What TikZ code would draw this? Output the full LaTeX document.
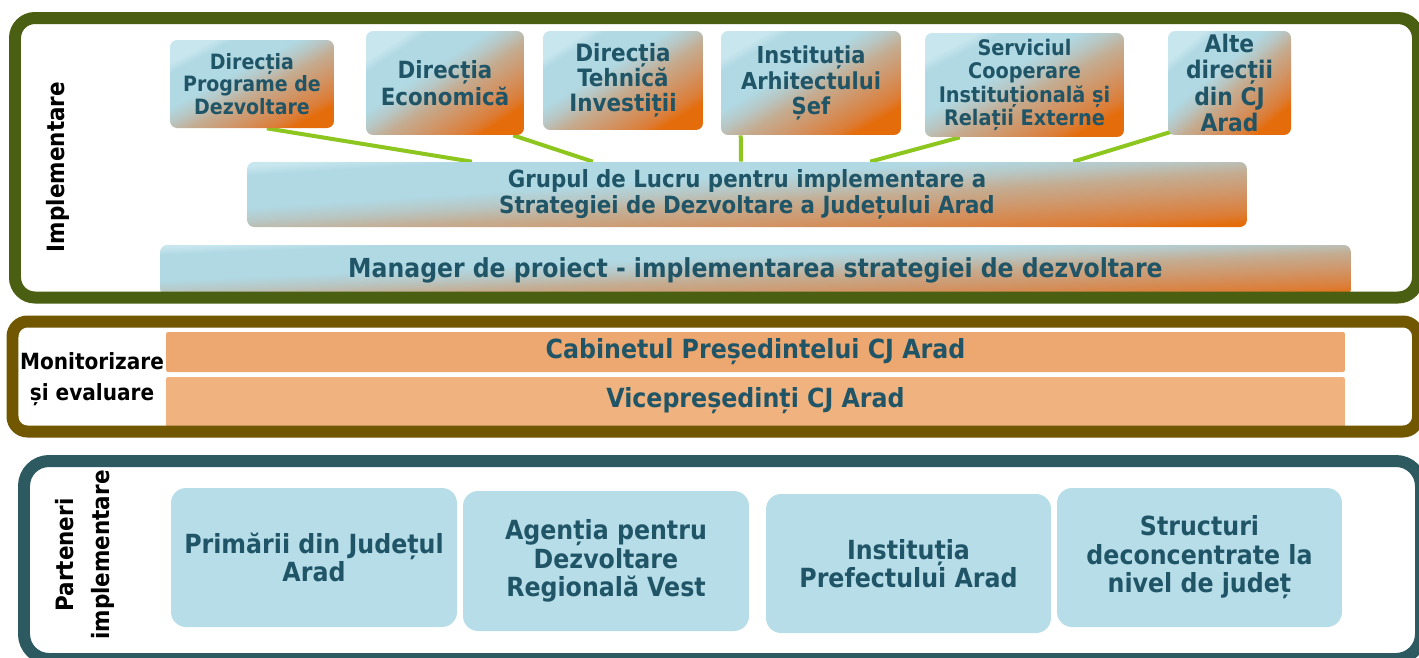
\documentclass[tikz,border=0pt]{standalone}
\usepackage{fontspec}
\setmainfont{DejaVu Sans Condensed}
\usetikzlibrary{calc}
\pgfdeclarelayer{bg}\pgfdeclarelayer{fg}
\pgfsetlayers{bg,main,fg}
\definecolor{txt}{RGB}{31,85,102}
\definecolor{frGreen}{RGB}{75,95,18}
\definecolor{frBrown}{RGB}{112,87,0}
\definecolor{frTeal}{RGB}{44,90,96}
\definecolor{boxBlue}{RGB}{183,221,232}
\definecolor{cabOr}{RGB}{237,167,112}
\definecolor{viceOr}{RGB}{240,179,128}
\definecolor{conn}{RGB}{140,198,30}
\definecolor{gOr}{RGB}{228,108,10}
\definecolor{gOrT}{RGB}{220,125,55}
\definecolor{gOrTan}{RGB}{208,150,105}
\definecolor{gTan}{RGB}{196,172,145}
\definecolor{gGray}{RGB}{184,198,195}
\definecolor{gBlue}{RGB}{176,217,228}
\definecolor{gLight}{RGB}{200,230,238}
\pgfdeclareverticalshading{boxgrad}{100bp}{color(0bp)=(gOr); color(25bp)=(gOr); color(29bp)=(gOrT); color(38bp)=(gOrTan); color(46bp)=(gTan); color(52bp)=(gGray); color(58bp)=(gBlue); color(71bp)=(gBlue); color(75bp)=(gLight); color(100bp)=(gLight)}
\tikzset{
  gbox/.style={shade, shading=boxgrad, rounded corners=0.14cm, text=txt, align=center, inner sep=0pt},
  pbox/.style={fill=boxBlue, rounded corners=0.3cm, text=txt, align=center, inner sep=0pt, font=\bfseries\fontsize{15}{16.2}\selectfont},
  band/.style={rounded corners=0.04cm, text=txt, inner sep=0pt},
  bandtxt/.style={text=txt, inner sep=0pt, font=\bfseries\fontsize{15}{16}\selectfont},
  connline/.style={draw=conn, line width=0.08cm},
  frame/.style={line width=0.24cm},
  lbl/.style={text=black, align=center, inner sep=0pt}
}
\begin{document}
\begin{tikzpicture}[x=0.02cm,y=-0.02cm]
\useasboundingbox (0,0) rectangle (1419,657);
% top boxes
\node[gbox, shading angle=28.2, minimum width=3.28cm, minimum height=1.76cm, font=\bfseries\fontsize{12}{13}\selectfont] (dp) at (252,84) {Direcția\\Programe de\\Dezvoltare};
\node[gbox, shading angle=33.4, minimum width=3.16cm, minimum height=2.08cm, font=\bfseries\fontsize{13.5}{15.3}\selectfont] (de) at (445,83) {Direcția\\Economică};
\node[gbox, shading angle=31.7, minimum width=3.2cm, minimum height=1.98cm, font=\bfseries\fontsize{13.6}{14.2}\selectfont] (dt) at (623,80.5) {Direcția\\Tehnică\\Investiții};
\node[gbox, shading angle=30, minimum width=3.6cm, minimum height=2.08cm, font=\bfseries\fontsize{13.3}{14.7}\selectfont] (ia) at (811,83) {Instituția\\Arhitectului\\Șef};
\node[gbox, shading angle=27.6, minimum width=3.98cm, minimum height=2.08cm, font=\bfseries\fontsize{12.2}{13.3}\selectfont] (sc) at (1024.5,85) {Serviciul\\Cooperare\\Instituțională și\\Relații Externe};
\node[gbox, shading angle=40.2, minimum width=2.46cm, minimum height=2.08cm, font=\bfseries\fontsize{13.8}{15}\selectfont] (ad) at (1229.5,83) {Alte\\direcții\\din CJ\\Arad};
\node[gbox, shading angle=3.7, minimum width=20cm, minimum height=1.3cm, font=\bfseries\fontsize{13.5}{14.7}\selectfont] (grp) at (747,194.5) {Grupul de Lucru pentru implementare a\\Strategiei de Dezvoltare a Județului Arad};
\node[gbox, shading angle=2.45, minimum width=23.82cm, minimum height=1.02cm] (mgr) at (755.5,270.5) {};
\node[bandtxt, font=\bfseries\fontsize{14.9}{16}\selectfont] (mgrt) at (755.5,270) {Manager de proiect - implementarea strategiei de dezvoltare};
% monitoring bands
\node[band, fill=cabOr, minimum width=23.58cm, minimum height=0.8cm] (cab) at (755.5,352) {};
\node[bandtxt] (cabt) at (755.5,352) {Cabinetul Președintelui CJ Arad};
\node[band, fill=viceOr, minimum width=23.58cm, minimum height=1.02cm] (vice) at (755.5,402.5) {};
\node[bandtxt] (vicet) at (755.5,401) {Vicepreședinți CJ Arad};
% partner boxes
\node[pbox, minimum width=5.72cm, minimum height=2.78cm] (pr) at (314,557.5) {Primării din Județul\\Arad};
\node[pbox, minimum width=5.72cm, minimum height=2.8cm] (ag) at (606,561) {Agenția pentru\\Dezvoltare\\Regională Vest};
\node[pbox, minimum width=5.7cm, minimum height=2.78cm] (ip) at (908.5,563.5) {Instituția\\Prefectului Arad};
\node[pbox, minimum width=5.7cm, minimum height=2.78cm] (st) at (1199.5,557.5) {Structuri\\deconcentrate la\\nivel de județ};
% labels
\node[lbl, rotate=90, font=\bfseries\fontsize{13.6}{15}\selectfont] (limp) at (58,167) {Implementare};
\node[lbl, font=\bfseries\fontsize{12.7}{18}\selectfont] (lmon) at (92,379) {Monitorizare\\și evaluare};
\node[lbl, rotate=90, font=\bfseries\fontsize{13.6}{20.4}\selectfont] (lpart) at (84.5,555) {Parteneri\\implementare};
% background + connectors
\begin{pgfonlayer}{bg}
\fill[white] (0,0) rectangle (1419,657);
\draw[connline] ($(dp.south west)!0.59!(dp.south east)$) -- ($(grp.north west)!0.225!(grp.north east)$);
\draw[connline] ($(de.south west)!0.93!(de.south east)$) -- ($(grp.north west)!0.346!(grp.north east)$);
\draw[connline] ($(ia.south west)!0.111!(ia.south east)$) -- ($(grp.north west)!0.494!(grp.north east)$);
\draw[connline] ($(sc.south west)!0.176!(sc.south east)$) -- ($(grp.north west)!0.623!(grp.north east)$);
\draw[connline] ($(ad.south west)+(0.1cm,0.08cm)$) -- ($(grp.north west)!0.826!(grp.north east)$);
\end{pgfonlayer}
% frames
\begin{pgfonlayer}{fg}
\draw[frame, draw=frGreen, rounded corners=0.4cm] (15,18) rectangle (1418,297.5);
\draw[frame, draw=frBrown, rounded corners=0.3cm] (12.5,321.5) rectangle (1418,431.5);
\draw[frame, draw=frTeal, rounded corners=0.5cm] (24,461) rectangle (1421,659);
\end{pgfonlayer}
\end{tikzpicture}
\end{document}
